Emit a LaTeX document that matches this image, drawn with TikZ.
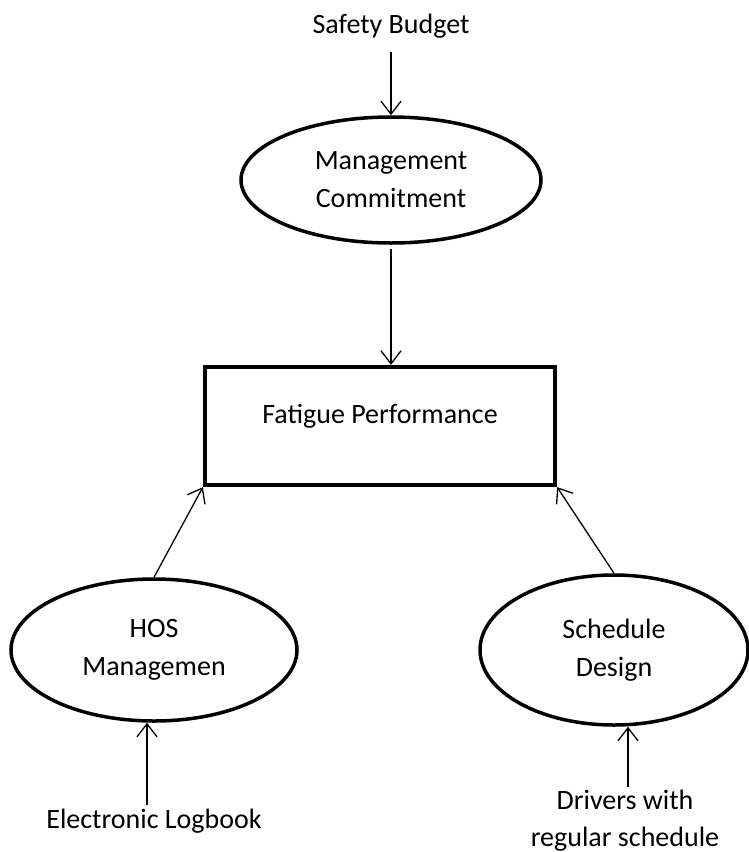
\documentclass[tikz,border=0pt]{standalone}
\usepackage{fontspec}
\setmainfont{Carlito}
\usepackage{tikz}
\usetikzlibrary{shapes.geometric, arrows.meta}
\tikzstyle{plain} = [text centered, align=center, font=\fontsize{28}{37}\selectfont]
\tikzstyle{oval} = [ellipse, line width=3.5pt, draw=black, inner sep=0pt, minimum width=300pt, minimum height=126pt, text centered, align=center, font=\fontsize{28}{38}\selectfont]
\tikzstyle{box} = [rectangle, line width=4.3pt, draw=black, minimum width=350pt, minimum height=118pt, text centered, font=\fontsize{28}{38}\selectfont]
\tikzstyle{arrow} = [line width=1.3pt, ->, >={Straight Barb[length=13pt,width=20pt]}]

\begin{document}
\begin{tikzpicture}[x=1pt, y=1pt, node distance=154pt]
\useasboundingbox (0,0) rectangle (748,-852);

\node (budget) [plain] at (391,-26) {Safety Budget};
\node (mgmt) [oval, below of=budget] {Management\\Commitment};
\node (perf) [box, below of=mgmt, yshift=-92pt, xshift=-11pt] {\raisebox{24pt}{Fatigue Performance}};
\node (hos) [oval, below of=perf, yshift=-70pt, xshift=-226pt, minimum width=286pt, minimum height=142pt] {HOS\\Managemen};
\node (sched) [oval, below of=perf, yshift=-70pt, xshift=234pt, minimum width=268pt, minimum height=150pt] {Schedule\\Design};
\node (logbook) [plain, below of=hos, yshift=-17pt] {Electronic Logbook};
\node (drivers) [plain, below of=sched, yshift=-17pt, xshift=11pt] {Drivers with\\regular schedule};

\draw [arrow, shorten <=10pt] (budget) -- (mgmt);
\draw [arrow, shorten <=4pt] (mgmt) -- (mgmt |- perf.north);
\draw [arrow] (hos.north) -- (perf.south west);
\draw [arrow] (sched.north) -- (perf.south east);
\draw [arrow] ([xshift=-7pt]logbook.north) -- ([xshift=-7pt]hos.south);
\draw [arrow] ([xshift=3pt]drivers.north) -- ([xshift=14pt]sched.south);

\end{tikzpicture}
\end{document}
